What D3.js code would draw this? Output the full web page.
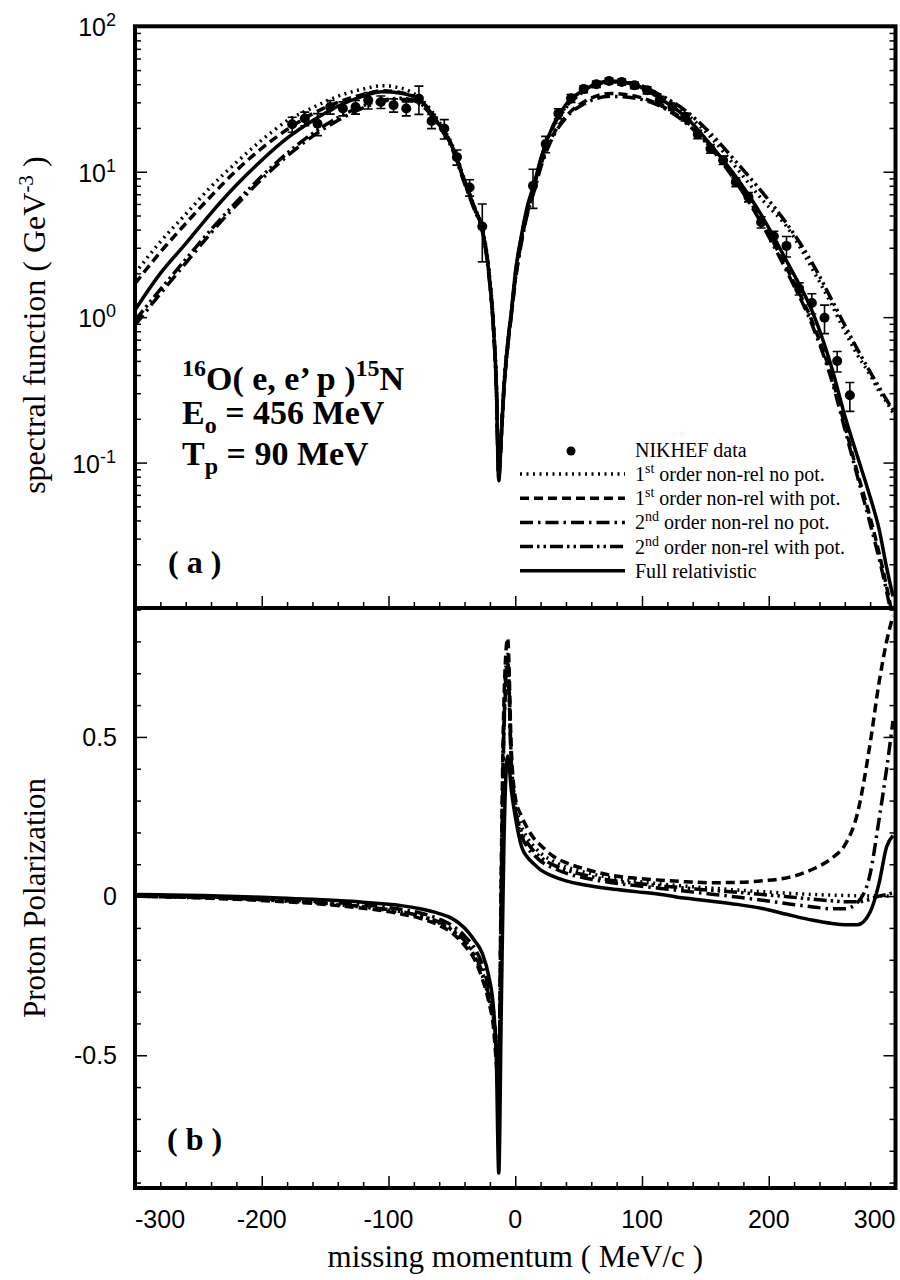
<!DOCTYPE html>
<html>
<head>
<meta charset="utf-8">
<script src="https://cdn.jsdelivr.net/npm/d3@7"></script>
<style>
  body { margin: 0; background: #fff; }
</style>
</head>
<body>
<div id="chart"></div>
<script>
// missing momentum grid (MeV/c) used by all curves
const pm = [-300,-280,-260,-240,-220,-200,-180,-160,-140,-120,
  -105,-90,-75,-60,-50,-40,-32,-26,-21,-17,
  -15,-13,-11,-9,-6,-3,0,5,10,15,
  20,30,40,55,75,95,115,135,155,175,
  195,215,235,250,260,270,280,287,293,298];

// (a) spectral function, GeV^-3
const specDotted = [2.0,3.3,5.1,7.9,11.6,16.5,22.4,27.5,33,37,
  39,37.5,32,22,15.5,8.8,5.7,4.1,2.2,0.85,
  0.38,0.09,0.16,0.33,0.66,1.1,1.95,3.6,5.8,8.0,
  11.8,20,27.5,36,41.5,40,33.5,25,17,10.5,
  6.4,4.1,2.1,1.2,0.8,0.55,0.4,0.31,0.26,0.22];
const specDashed = [1.7,2.8,4.4,6.8,10.2,14.5,19.5,25,30,34,
  36,35,31,21.5,15.2,8.7,5.6,4.0,2.1,0.8,
  0.36,0.085,0.15,0.31,0.62,1.05,1.8,3.4,5.4,7.6,
  11,18,24,30.5,34.5,33,28.5,22,14.8,8.6,
  4.5,2.1,0.9,0.38,0.18,0.085,0.042,0.024,0.014,0.0085];
const specDashDot = [0.88,1.45,2.35,3.8,5.9,8.9,12.8,17.5,22.5,27.5,
  30.5,31.5,29,20.5,14.5,8.3,5.4,3.9,2.0,0.78,
  0.35,0.08,0.15,0.31,0.62,1.05,1.75,3.3,5.3,7.4,
  10.6,17.5,23.5,29.5,33,32,28,21.5,14.3,8.3,
  4.3,2.0,0.85,0.36,0.17,0.08,0.038,0.022,0.013,0.008];
const specDashDotDot = [0.95,1.55,2.5,4.0,6.2,9.3,13.4,18.3,23.5,28.5,
  31,32,29.5,21,15,8.5,5.5,4.0,2.1,0.8,
  0.36,0.085,0.16,0.33,0.66,1.1,1.9,3.6,5.8,8.1,
  12,20.5,28,36.5,41.5,40,33.5,26,18,11.5,
  7.2,4.3,2.3,1.3,0.88,0.6,0.42,0.33,0.27,0.23];
const specSolid = [1.12,2.0,3.2,5.2,8.1,12.0,17.0,22.4,28.2,33.1,
  35.5,34.7,30.9,21,15,8.6,5.6,4.0,2.1,0.8,
  0.35,0.075,0.15,0.32,0.65,1.1,2.0,3.7,6.0,8.3,
  12.2,21,29,36.8,42,39.5,31.5,23.6,15,9.0,
  4.9,2.35,1.06,0.44,0.21,0.11,0.058,0.035,0.019,0.012];

// (b) proton polarization
const polDotted = [0.0,-0.002,-0.004,-0.006,-0.009,-0.012,-0.016,-0.021,-0.027,-0.035,
  -0.042,-0.051,-0.064,-0.085,-0.107,-0.145,-0.19,-0.25,-0.32,-0.4,
  -0.48,-0.55,0.05,0.55,0.76,0.42,0.3,0.22,0.18,0.155,
  0.135,0.11,0.092,0.075,0.058,0.047,0.038,0.031,0.025,0.019,
  0.014,0.009,0.005,0.003,0.002,0.001,0.0,0.0,0.0,0.0];
const polDashed = [0.0,-0.002,-0.004,-0.007,-0.01,-0.014,-0.018,-0.023,-0.03,-0.038,
  -0.046,-0.056,-0.07,-0.092,-0.115,-0.155,-0.2,-0.26,-0.33,-0.42,
  -0.52,-0.6,0.1,0.6,0.81,0.45,0.31,0.25,0.21,0.18,
  0.16,0.125,0.105,0.085,0.066,0.056,0.05,0.045,0.042,0.043,
  0.048,0.058,0.085,0.12,0.16,0.26,0.48,0.67,0.8,0.88];
const polDashDot = [0.003,0.001,-0.001,-0.003,-0.006,-0.009,-0.012,-0.016,-0.021,-0.028,
  -0.034,-0.042,-0.053,-0.072,-0.092,-0.125,-0.165,-0.215,-0.29,-0.37,
  -0.46,-0.58,0.0,0.5,0.72,0.4,0.27,0.19,0.15,0.128,
  0.11,0.088,0.072,0.057,0.043,0.033,0.024,0.015,0.006,-0.003,
  -0.013,-0.024,-0.034,-0.04,-0.04,-0.02,0.07,0.24,0.4,0.55];
const polDashDotDot = [0.0,-0.002,-0.003,-0.005,-0.008,-0.011,-0.015,-0.02,-0.026,-0.033,
  -0.04,-0.049,-0.062,-0.082,-0.104,-0.14,-0.185,-0.24,-0.31,-0.39,
  -0.47,-0.52,0.02,0.52,0.74,0.41,0.28,0.2,0.165,0.14,
  0.122,0.098,0.082,0.066,0.05,0.04,0.032,0.025,0.018,0.012,
  0.005,-0.002,-0.01,-0.015,-0.018,-0.018,-0.01,0.0,0.005,0.01];
const polSolid = [0.005,0.004,0.003,0.001,-0.001,-0.004,-0.007,-0.01,-0.014,-0.019,
  -0.024,-0.03,-0.04,-0.055,-0.07,-0.1,-0.14,-0.18,-0.25,-0.36,
  -0.5,-0.87,-0.35,0.15,0.44,0.33,0.25,0.155,0.12,0.1,
  0.082,0.062,0.048,0.035,0.023,0.014,0.005,-0.007,-0.016,-0.026,
  -0.039,-0.058,-0.076,-0.086,-0.09,-0.09,-0.05,0.04,0.155,0.19];

// NIKHEF data
const dataP = [-176,-166,-156,-146,-136,-126,-116,-106,-96,-86,-76,-66,-56,-46,-36,-26,
  14,24,34,44,54,64,74,84,94,104,114,124,134,144,154,164,174,184,194,204,214,224,234,244,254,264];
const dataS = [21.2,23.2,21.4,27.9,27.2,27.9,31.0,30.2,28.7,27.2,31.8,22.3,19.8,12.6,7.8,4.2,
  8.0,15.5,25.1,32,37,40,42.1,41.4,39.3,36.3,31.0,27.9,23.8,18.1,14.4,12.0,8.5,6.7,4.5,3.6,
  3.09,1.57,1.25,0.99,0.50,0.29];
const dataErr = [2.5,2.5,3.7,3,3,3,4,3,3,3,7,2.5,3,1.5,1,1.8,
  2.4,2,2,2,2,2,2,2,2,2,2,1.5,1.5,1.2,1,0.8,0.6,0.5,0.4,0.3,
  0.5,0.15,0.2,0.22,0.08,0.065];

// tick labels
const xTicks = [-300,-200,-100,0,100,200,300];
const logExps = [2,1,0,-1];
const polTicks = [0.5,0,-0.5];

// legend
const legOrd = ["1","1","2","2",""];
const legSup = ["st","st","nd","nd",""];
const legText = [" order non-rel no pot."," order non-rel with pot."," order non-rel no pot."," order non-rel with pot.","Full relativistic"];
const dashes = ["2,4.5","9,5","13,5,2.5,5","13,4,2.5,4,2.5,4","none"];

const specSeries = [specDotted, specDashed, specDashDot, specDashDotDot, specSolid];
const polSeries = [polDotted, polDashed, polDashDot, polDashDotDot, polSolid];

const width = 900, height = 1280;
const pLeft = 135, pRight = 895.5, pTop = 26.3, pMid = 608, pBottom = 1188;
const serif = "'Liberation Serif','Times New Roman',serif";
const sans = "'Liberation Sans',Arial,sans-serif";
const lw = 3.5;

const svg = d3.select("#chart").append("svg")
  .attr("width", width).attr("height", height);

const x = d3.scaleLinear().domain([-300, 300]).range([pLeft, pRight]);
const yS = d3.scaleLog().domain([0.01, 100]).range([pMid, pTop]);
const yP = d3.scaleLinear().domain([-0.917, 0.905]).range([pBottom, pMid]);

const defs = svg.append("defs");
defs.append("clipPath").attr("id", "clipA").append("rect")
  .attr("x", pLeft).attr("y", pTop).attr("width", pRight - pLeft).attr("height", pMid - pTop);
defs.append("clipPath").attr("id", "clipB").append("rect")
  .attr("x", pLeft).attr("y", pMid).attr("width", pRight - pLeft).attr("height", pBottom - pMid);

// ticks
function ticks(axis, tr) {
  svg.append("g").attr("transform", tr).call(axis)
    .call(g => g.select(".domain").remove())
    .call(g => g.selectAll("line").attr("stroke", "#000").attr("stroke-width", 1.5));
}
const logMinor = [], logMajor = [0.1, 1, 10];
[0.01, 0.1, 1, 10].forEach(d => { for (let k = 2; k <= 9; k++) logMinor.push(k * d); });
const xMinor = d3.range(-280, 300, 20).filter(v => v % 100 !== 0);
const polMinor = d3.range(-9, 10).map(v => v / 10).filter(v => Math.abs(v) !== 0.5 && v !== 0);

ticks(d3.axisLeft(yS).tickValues(logMinor).tickSize(-6).tickFormat(""), `translate(${pLeft},0)`);
ticks(d3.axisLeft(yS).tickValues(logMajor).tickSize(-12).tickFormat(""), `translate(${pLeft},0)`);
ticks(d3.axisRight(yS).tickValues(logMinor).tickSize(-6).tickFormat(""), `translate(${pRight},0)`);
ticks(d3.axisRight(yS).tickValues(logMajor).tickSize(-12).tickFormat(""), `translate(${pRight},0)`);
ticks(d3.axisLeft(yP).tickValues(polMinor).tickSize(-6).tickFormat(""), `translate(${pLeft},0)`);
ticks(d3.axisLeft(yP).tickValues(polTicks).tickSize(-12).tickFormat(""), `translate(${pLeft},0)`);
ticks(d3.axisRight(yP).tickValues(polMinor).tickSize(-6).tickFormat(""), `translate(${pRight},0)`);
ticks(d3.axisRight(yP).tickValues(polTicks).tickSize(-12).tickFormat(""), `translate(${pRight},0)`);
[pMid, pBottom].forEach(yy => {
  ticks(d3.axisBottom(x).tickValues(xMinor).tickSize(-6).tickFormat(""), `translate(0,${yy})`);
  ticks(d3.axisBottom(x).tickValues(xTicks).tickSize(-12).tickFormat(""), `translate(0,${yy})`);
});

// curves
const lineA = d3.line().x((d, i) => x(pm[i])).y(d => yS(d)).curve(d3.curveMonotoneX);
const lineB = d3.line().x((d, i) => x(pm[i])).y(d => yP(d)).curve(d3.curveMonotoneX);

const gA = svg.append("g").attr("clip-path", "url(#clipA)");
const gB = svg.append("g").attr("clip-path", "url(#clipB)");

specSeries.forEach((s, i) => {
  gA.append("path").attr("d", lineA(s)).attr("fill", "none").attr("stroke", "#000")
    .attr("stroke-width", lw).attr("stroke-dasharray", dashes[i]);
});
polSeries.forEach((s, i) => {
  gB.append("path").attr("d", lineB(s)).attr("fill", "none").attr("stroke", "#000")
    .attr("stroke-width", lw).attr("stroke-dasharray", dashes[i]);
});

// data with error bars
const pts = gA.selectAll("g.pt").data(dataP).enter().append("g").attr("class", "pt");
pts.append("line")
  .attr("x1", d => x(d)).attr("x2", d => x(d))
  .attr("y1", (d, i) => yS(dataS[i] + dataErr[i]))
  .attr("y2", (d, i) => yS(Math.max(dataS[i] - dataErr[i], 0.011)))
  .attr("stroke", "#000").attr("stroke-width", 1.6);
[1, -1].forEach(sg => {
  pts.append("line")
    .attr("x1", d => x(d) - 4.5).attr("x2", d => x(d) + 4.5)
    .attr("y1", (d, i) => yS(dataS[i] + sg * dataErr[i]))
    .attr("y2", (d, i) => yS(dataS[i] + sg * dataErr[i]))
    .attr("stroke", "#000").attr("stroke-width", 1.6);
});
pts.append("circle").attr("cx", d => x(d)).attr("cy", (d, i) => yS(dataS[i])).attr("r", 5).attr("fill", "#000");

// frame
svg.append("rect").attr("x", pLeft).attr("y", pTop).attr("width", pRight - pLeft).attr("height", pBottom - pTop)
  .attr("fill", "none").attr("stroke", "#000").attr("stroke-width", 4);
svg.append("line").attr("x1", pLeft).attr("x2", pRight).attr("y1", pMid).attr("y2", pMid)
  .attr("stroke", "#000").attr("stroke-width", 4);

// tick labels
logExps.forEach(e => {
  const t = svg.append("text").attr("x", 116).attr("y", yS(Math.pow(10, e)) + 10)
    .attr("text-anchor", "end").attr("font-family", sans).attr("font-size", 25);
  t.append("tspan").text("10");
  t.append("tspan").attr("dy", -10).attr("font-size", 18).text(e < 0 ? "-" + (-e) : e);
});
polTicks.forEach(v => {
  svg.append("text").attr("x", 117).attr("y", yP(v) + 9).attr("text-anchor", "end")
    .attr("font-family", sans).attr("font-size", 25).text(v === 0 ? "0" : v);
});
xTicks.forEach((v, i) => {
  svg.append("text").attr("x", i === 0 ? pLeft : i === xTicks.length - 1 ? pRight : x(v))
    .attr("y", 1228)
    .attr("text-anchor", i === 0 ? "start" : i === xTicks.length - 1 ? "end" : "middle")
    .attr("font-family", sans).attr("font-size", 25).text(v);
});

// axis titles
const ty = svg.append("text").attr("transform", `translate(45,${(pTop + pMid) / 2 + 8}) rotate(-90)`)
  .attr("text-anchor", "middle").attr("font-family", serif).attr("font-size", 32);
ty.append("tspan").text("spectral function ( GeV");
ty.append("tspan").attr("dy", -12).attr("font-size", 21).text("-3");
ty.append("tspan").attr("dy", 12).text(" )");
svg.append("text").attr("transform", `translate(45,${(pMid + pBottom) / 2}) rotate(-90)`)
  .attr("text-anchor", "middle").attr("font-family", serif).attr("font-size", 31)
  .text("Proton Polarization");
svg.append("text").attr("x", (pLeft + pRight) / 2).attr("y", 1267).attr("text-anchor", "middle")
  .attr("font-family", serif).attr("font-size", 31).text("missing momentum ( MeV/c )");

// reaction annotation
const ann = svg.append("g").attr("font-family", serif).attr("font-weight", "bold").attr("font-size", 34);
const a1 = ann.append("text").attr("x", 182).attr("y", 390);
a1.append("tspan").attr("dy", -14).attr("font-size", 24).text("16");
a1.append("tspan").attr("dy", 14).text("O( e, e\u2019 p )");
a1.append("tspan").attr("dy", -14).attr("font-size", 24).text("15");
a1.append("tspan").attr("dy", 14).text("N");
const a2 = ann.append("text").attr("x", 182).attr("y", 424);
a2.append("tspan").text("E");
a2.append("tspan").attr("dy", 9).attr("font-size", 24).text("o");
a2.append("tspan").attr("dy", -9).text(" = 456 MeV");
const a3 = ann.append("text").attr("x", 182).attr("y", 465);
a3.append("tspan").text("T");
a3.append("tspan").attr("dy", 9).attr("font-size", 24).text("p");
a3.append("tspan").attr("dy", -9).text(" = 90 MeV");
ann.append("text").attr("x", 168).attr("y", 573).attr("font-size", 32).text("( a )");
ann.append("text").attr("x", 167).attr("y", 1150).attr("font-size", 32).text("( b )");

// legend
const leg = svg.append("g").attr("font-family", serif).attr("font-size", 20);
leg.append("circle").attr("cx", 571).attr("cy", 451).attr("r", 4.5).attr("fill", "#000");
leg.append("text").attr("x", 635).attr("y", 457).text("NIKHEF data");
legText.forEach((t, i) => {
  const yy = 481 + i * 24.2;
  leg.append("line").attr("x1", 520).attr("x2", 625).attr("y1", yy - 7).attr("y2", yy - 7)
    .attr("stroke", "#000").attr("stroke-width", lw).attr("stroke-dasharray", dashes[i]);
  const tx = leg.append("text").attr("x", 635).attr("y", yy);
  if (legOrd[i]) {
    tx.append("tspan").text(legOrd[i]);
    tx.append("tspan").attr("dy", -8).attr("font-size", 14).text(legSup[i]);
    tx.append("tspan").attr("dy", 8).text(legText[i]);
  } else {
    tx.text(t);
  }
});
</script>
</body>
</html>
